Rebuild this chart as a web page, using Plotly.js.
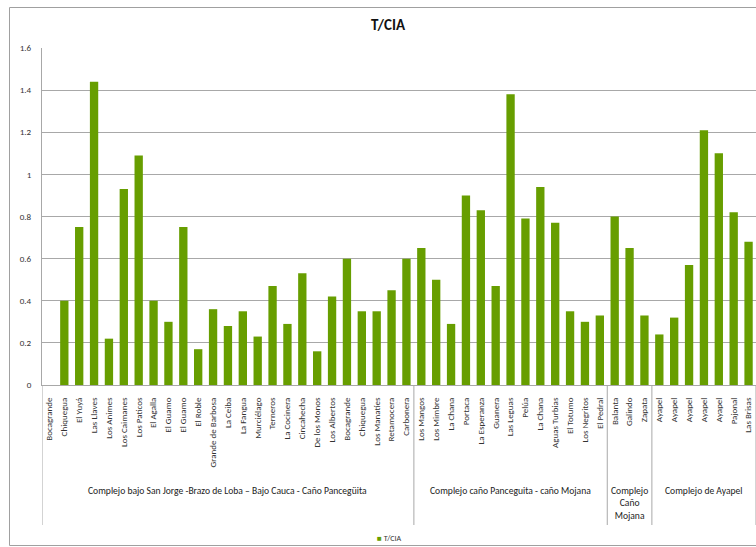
<!DOCTYPE html>
<html>
<head>
<meta charset="utf-8">
<script src="https://cdn.plot.ly/plotly-3.0.1.min.js"></script>
<style>
  html, body { margin: 0; padding: 0; background: #fff; }
  #chart { width: 756px; height: 547px; }
</style>
</head>
<body>
<div id="chart"></div>
<script>
// Ciénaga names, in axis order
const sites = [
  "Bocagrande", "Chiquegua", "El Yuyá", "Las Llaves", "Los Animes", "Los Caimanes",
  "Los Paticos", "El Agalla", "El Guamo", "El Guamo", "El Roble", "Grande de Barbosa",
  "La Ceiba", "La Fangua", "Murciélago", "Terneros", "La Cocinera", "Cincahecha",
  "De los Monos", "Los Albertos", "Bocagrande", "Chiquegua", "Los Manatíes", "Retamocera",
  "Carbonera",
  "Los Mangos", "Los Mimbre", "La Chana", "Portaca", "La Esperanza", "Guanera",
  "Las Leguas", "Pelúa", "La Chana", "Aguas Turbias", "El Totumo", "Los Negritos",
  "El Pedral",
  "Balanta", "Galindo", "Zapata",
  "Ayapel", "Ayapel", "Ayapel", "Ayapel", "Ayapel", "Pajonal", "Las Brisas"
];

// T/CIA ratio per ciénaga
const tcia = [
  0, 0.40, 0.75, 1.44, 0.22, 0.93,
  1.09, 0.40, 0.30, 0.75, 0.17, 0.36,
  0.28, 0.35, 0.23, 0.47, 0.29, 0.53,
  0.16, 0.42, 0.60, 0.35, 0.35, 0.45,
  0.60,
  0.65, 0.50, 0.29, 0.90, 0.83, 0.47,
  1.38, 0.79, 0.94, 0.77, 0.35, 0.30,
  0.33,
  0.80, 0.65, 0.33,
  0.24, 0.32, 0.57, 1.21, 1.10, 0.82, 0.68
];

// Wetland complexes and how many ciénagas each holds
const groupNames = [
  "Complejo bajo San Jorge -Brazo de Loba – Bajo Cauca - Caño Pancegüita",
  "Complejo caño Panceguita - caño Mojana",
  "Complejo<br>Caño<br>Mojana",
  "Complejo de Ayapel"
];
const groupSizes = [25, 13, 3, 7];

const yTicks = [0, 0.2, 0.4, 0.6, 0.8, 1, 1.2, 1.4, 1.6];
const seriesName = "T/CIA";

// ---- layout constants ----
const W = 756, H = 547;
const M = { l: 42, r: 0, t: 48, b: 162 };
const plotW = W - M.l - M.r, plotH = H - M.t - M.b;
const FONT = "Carlito, Lato, 'Open Sans', sans-serif";
const GREEN = "#679e00";
const GRID = "#a8a8a8";

const idx = sites.map((_, i) => i);

// group boundaries and centres along the category axis
const bounds = [-0.5];
const centers = [];
let start = 0;
groupSizes.forEach(n => {
  centers.push(start + (n - 1) / 2);
  start += n;
  bounds.push(start - 0.5);
});

const shapes = bounds.map(b => ({
  type: "line", xref: "x", yref: "paper",
  x0: b, x1: b, ysizemode: "pixel", yanchor: 0, y0: 0, y1: -140,
  line: { color: GRID, width: 1 }
}));

// pixel -> paper helpers
const px = x => (x - M.l) / plotW;
const py = y => (H - M.b - y) / plotH;

// outer chart frame
shapes.push({
  type: "rect", xref: "paper", yref: "paper",
  x0: px(9.5), x1: px(790), y0: py(545.5), y1: py(7.5),
  line: { color: "#a0a0a0", width: 1 }, fillcolor: "rgba(0,0,0,0)"
});

const annotations = groupNames.map((g, i) => ({
  text: g, xref: "x", yref: "paper", x: centers[i], y: 0,
  xanchor: "center", yanchor: "top", yshift: -98, showarrow: false,
  align: "center", font: { family: FONT, size: 9.6, color: "#222" }
}));

// compact series key under the plot
annotations.push({
  text: '<span style="color:' + GREEN + '">■</span> ' + seriesName,
  xref: "paper", yref: "paper", x: px(375), y: py(538),
  xanchor: "left", yanchor: "middle", showarrow: false,
  font: { family: FONT, size: 8, color: "#333" }
});

const trace = {
  type: "bar", name: seriesName, x: idx, y: tcia,
  marker: { color: GREEN, line: { width: 0 } },
  showlegend: false
};

const layout = {
  width: W, height: H, margin: M,
  paper_bgcolor: "#fff", plot_bgcolor: "rgba(0,0,0,0)",
  font: { family: FONT, size: 9, color: "#333" },
  title: {
    text: "<b>T/CIA</b>", xref: "container", yref: "container",
    x: 388 / W, y: 1 - 25 / H, xanchor: "center", yanchor: "middle",
    font: { family: FONT, size: 15, color: "#111" }
  },
  bargap: 0.44,
  xaxis: {
    range: [-0.5, sites.length - 0.5], tickmode: "array", tickvals: idx, ticktext: sites,
    tickangle: -90, showgrid: false, zeroline: false, showline: true, linecolor: GRID,
    ticks: "", ticklabelstandoff: 8, tickfont: { family: FONT, size: 9, color: "#333" }
  },
  yaxis: {
    range: [0, 1.6], tickmode: "array", tickvals: yTicks, ticktext: yTicks.map(String),
    showgrid: true, gridcolor: GRID, gridwidth: 1, zeroline: false,
    showline: true, linecolor: GRID, ticks: "", ticklabelstandoff: 8,
    tickfont: { family: FONT, size: 9, color: "#333" }
  },
  showlegend: false,
  shapes: shapes,
  annotations: annotations
};

Plotly.newPlot("chart", [trace], layout, { displayModeBar: false, staticPlot: true });
</script>
</body>
</html>
